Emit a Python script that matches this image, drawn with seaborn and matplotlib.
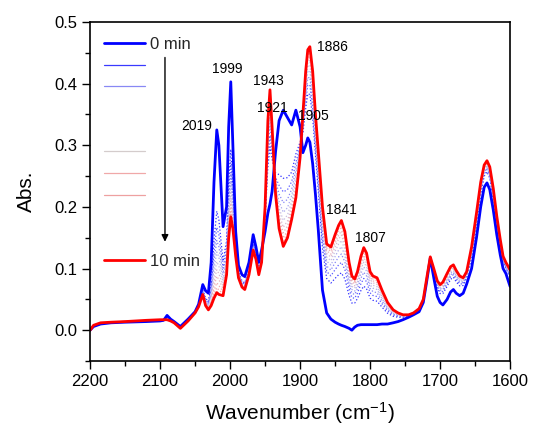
import matplotlib
matplotlib.use("Agg")
import matplotlib.pyplot as plt
from matplotlib.lines import Line2D
from matplotlib.ticker import MultipleLocator, FormatStrFormatter
import seaborn as sns
import pandas as pd
import numpy as np

# Wavenumber grid (cm-1) shared by all spectra
wavenumber = [2200, 2195, 2185, 2170, 2150, 2120, 2100, 2095, 2090, 2085, 2080, 2071,
              2060, 2050, 2045, 2039, 2035, 2031, 2027, 2023, 2019, 2016, 2010, 2005,
              2002, 1999, 1996, 1992, 1988, 1983, 1979, 1973, 1967, 1963, 1959, 1955,
              1950, 1946, 1943, 1940, 1935, 1930, 1924, 1918, 1912, 1906, 1900, 1896,
              1892, 1889, 1886, 1882, 1878, 1874, 1868, 1862, 1856, 1850, 1845, 1841,
              1836, 1830, 1826, 1822, 1818, 1813, 1809, 1805, 1800, 1796, 1790, 1783,
              1775, 1767, 1760, 1753, 1745, 1738, 1730, 1724, 1719, 1714, 1709, 1704,
              1700, 1696, 1690, 1685, 1681, 1677, 1672, 1667, 1662, 1655, 1648, 1642,
              1637, 1633, 1629, 1624, 1619, 1614, 1610, 1606, 1600]

# 0 min spectrum
abs_0min = [0.000, 0.006, 0.010, 0.012, 0.013, 0.014, 0.015, 0.016, 0.024, 0.018, 0.014, 0.006,
            0.018, 0.030, 0.042, 0.074, 0.064, 0.060, 0.110, 0.240, 0.325, 0.300, 0.168, 0.200,
            0.330, 0.403, 0.300, 0.160, 0.105, 0.090, 0.087, 0.110, 0.155, 0.135, 0.110, 0.130,
            0.160, 0.190, 0.205, 0.225, 0.290, 0.340, 0.357, 0.345, 0.333, 0.357, 0.330, 0.288,
            0.300, 0.312, 0.305, 0.270, 0.220, 0.163, 0.065, 0.028, 0.018, 0.013, 0.010, 0.008,
            0.006, 0.003, 0.000, 0.005, 0.008, 0.009, 0.009, 0.009, 0.009, 0.009, 0.009, 0.010,
            0.010, 0.012, 0.014, 0.017, 0.021, 0.025, 0.030, 0.045, 0.080, 0.117, 0.085, 0.055,
            0.045, 0.041, 0.050, 0.062, 0.066, 0.060, 0.056, 0.060, 0.075, 0.100, 0.150, 0.200,
            0.232, 0.239, 0.228, 0.195, 0.155, 0.122, 0.100, 0.092, 0.071]

# 10 min spectrum
abs_10min = [0.000, 0.008, 0.012, 0.013, 0.014, 0.016, 0.017, 0.017, 0.017, 0.015, 0.012, 0.003,
             0.015, 0.028, 0.038, 0.058, 0.040, 0.033, 0.040, 0.052, 0.061, 0.058, 0.056, 0.090,
             0.150, 0.184, 0.165, 0.120, 0.085, 0.070, 0.066, 0.090, 0.130, 0.115, 0.090, 0.110,
             0.200, 0.340, 0.390, 0.330, 0.220, 0.165, 0.136, 0.150, 0.180, 0.215, 0.280, 0.350,
             0.420, 0.455, 0.460, 0.420, 0.350, 0.290, 0.200, 0.140, 0.135, 0.155, 0.170, 0.178,
             0.160, 0.110, 0.088, 0.083, 0.095, 0.120, 0.134, 0.125, 0.095, 0.088, 0.085, 0.065,
             0.045, 0.033, 0.028, 0.025, 0.025, 0.028, 0.035, 0.050, 0.085, 0.119, 0.100, 0.080,
             0.074, 0.078, 0.092, 0.103, 0.106, 0.097, 0.088, 0.085, 0.095, 0.135, 0.190, 0.240,
             0.268, 0.275, 0.265, 0.230, 0.185, 0.147, 0.120, 0.110, 0.098]

# progress of each intermediate spectrum (1..9 min) between the 0 and 10 min curves
progress = [0.50, 0.60, 0.68, 0.75, 0.81, 0.86, 0.90, 0.94, 0.97]
mid_colors = ['#3030ff', '#5a5aff', '#8484f6', '#a8a8ee', '#c6bce0',
              '#dcb8cc', '#eab2ba', '#f2acac', '#f6a6a6']
legend_colors = ['#3a3aff', '#8888f4', 'none', 'none', '#d4cccc',
                 '#f0a8a8', '#eea0a0', 'none', 'none']

peak_labels = ['2019', '1999', '1943', '1921', '1905', '1886', '1841', '1807']
label_x = [2047, 2004, 1946, 1939, 1881, 1854, 1841, 1800]
label_y = [0.332, 0.424, 0.405, 0.361, 0.348, 0.460, 0.195, 0.150]

sns.set_theme(style="ticks")
plt.rcParams['font.family'] = ['Liberation Sans', 'DejaVu Sans']
plt.rcParams['mathtext.fontset'] = 'custom'
plt.rcParams['mathtext.rm'] = 'Liberation Sans'
plt.rcParams['mathtext.default'] = 'regular'

wn = np.array(wavenumber)
a0 = np.array(abs_0min)
a10 = np.array(abs_10min)

fig = plt.figure(figsize=(5.33, 4.28), dpi=100)
ax = fig.add_axes([0.169, 0.1565, 0.788, 0.792])

for p, c in zip(progress, mid_colors):
    mid = pd.DataFrame({"wn": wn, "abs": a0 + p * (a10 - a0)})
    sns.lineplot(data=mid, x="wn", y="abs", ax=ax, color=c, lw=0.9,
                 linestyle=":", sort=False)

df0 = pd.DataFrame({"wn": wn, "abs": a0})
df10 = pd.DataFrame({"wn": wn, "abs": a10})
sns.lineplot(data=df0, x="wn", y="abs", ax=ax, color="#0000ff", lw=2.0, sort=False)
sns.lineplot(data=df10, x="wn", y="abs", ax=ax, color="#ff0000", lw=2.0, sort=False)

for t, x, y in zip(peak_labels, label_x, label_y):
    ax.text(x, y, t, fontsize=10, ha="center", va="center", color="black")

# legend
handles = [Line2D([], [], color="#0000ff", lw=2.0)]
for c in legend_colors:
    handles.append(Line2D([], [], color=c, lw=0.9))
handles.append(Line2D([], [], color="#ff0000", lw=2.0))
labels = ["0 min"] + [" "] * len(legend_colors) + ["10 min"]
ax.legend(handles, labels, loc="upper left", bbox_to_anchor=(0.033, 0.956),
          frameon=False, fontsize=12, handlelength=2.45, handletextpad=0.3,
          labelspacing=0.40, borderaxespad=0, borderpad=0)

ax.annotate("", xy=(2093, 0.139), xytext=(2093, 0.447),
            arrowprops=dict(arrowstyle="-|>", color="black", lw=1.0, mutation_scale=10))

ax.set_xlim(2200, 1600)
ax.set_ylim(-0.05, 0.5)
ax.xaxis.set_major_locator(MultipleLocator(100))
ax.xaxis.set_minor_locator(MultipleLocator(50))
ax.yaxis.set_major_locator(MultipleLocator(0.1))
ax.yaxis.set_minor_locator(MultipleLocator(0.05))
ax.yaxis.set_major_formatter(FormatStrFormatter("%.1f"))
ax.tick_params(which="major", direction="out", length=6, width=1.0, labelsize=12,
               color="black", labelcolor="black", pad=3)
ax.tick_params(which="minor", direction="out", length=3.5, width=1.0, color="black")
ax.tick_params(top=False, right=False, which="both")
for s in ax.spines.values():
    s.set_visible(True)
    s.set_linewidth(1.2)
    s.set_color("black")

ax.set_xlabel("Wavenumber (cm$^{-1}$)", fontsize=15, color="black", labelpad=8)
ax.set_ylabel("Abs.", fontsize=15, color="black", labelpad=13)

fig.savefig("out.png", dpi=100, facecolor="white")
